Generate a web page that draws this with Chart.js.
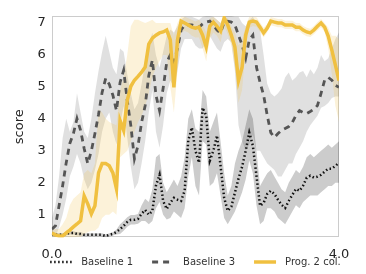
<!DOCTYPE html>
<html>
<head>
<meta charset="utf-8">
<script src="https://cdn.jsdelivr.net/npm/chart.js@4/dist/chart.umd.min.js"></script>
<style>
  html, body { margin: 0; padding: 0; background: #fff; }
  canvas { display: block; }
</style>
</head>
<body>
<canvas id="myChart" width="366" height="274"></canvas>
<script>
// x positions (0 .. 4, step 0.05)
var xs = [0,0.05,0.1,0.15,0.2,0.25,0.3,0.35,0.4,0.45,0.5,0.55,0.6,0.65,0.7,0.75,0.8,0.85,0.9,0.95,
          1,1.05,1.1,1.15,1.2,1.25,1.3,1.35,1.4,1.45,1.5,1.55,1.6,1.65,1.7,1.75,1.8,1.85,1.9,1.95,
          2,2.05,2.1,2.15,2.2,2.25,2.3,2.35,2.4,2.45,2.5,2.55,2.6,2.65,2.7,2.75,2.8,2.85,2.9,2.95,
          3,3.05,3.1,3.15,3.2,3.25,3.3,3.35,3.4,3.45,3.5,3.55,3.6,3.65,3.7,3.75,3.8,3.85,3.9,3.95,4];

var base1   = [0.4,0.37,0.37,0.37,0.4,0.43,0.43,0.4,0.4,0.37,0.37,0.37,0.37,0.37,0.37,0.33,0.37,0.4,0.46,0.55,
               0.65,0.77,0.84,0.84,0.87,1.03,1.15,1.0,1.12,1.91,2.25,1.43,1.18,1.37,1.53,1.47,1.43,1.75,3.32,3.73,
               3.0,2.63,4.35,4.1,2.69,3.0,3.48,2.53,1.53,1.12,1.25,1.69,2.13,2.5,3.0,3.57,3.16,2.22,1.28,1.37,
               1.65,1.75,1.65,1.47,1.31,1.21,1.43,1.62,1.81,1.75,1.91,2.16,2.22,2.16,2.19,2.25,2.35,2.44,2.44,2.53,2.63];
var base1Lo = [0.35,0.32,0.32,0.32,0.35,0.38,0.38,0.35,0.35,0.32,0.32,0.32,0.32,0.32,0.32,0.29,0.32,0.35,0.38,0.4,
               0.5,0.62,0.69,0.69,0.72,0.8,0.8,0.7,0.8,1.2,1.4,1.0,0.85,0.9,1.1,1.0,0.9,1.2,2.2,2.8,
               1.9,1.6,3.3,3.2,1.9,2.0,2.3,1.6,0.9,0.7,0.9,1.1,1.4,1.7,2.1,2.7,2.3,1.3,0.7,0.8,
               1.2,1.2,1.1,0.9,0.8,0.7,0.9,1.1,1.3,1.2,1.4,1.5,1.6,1.6,1.6,1.7,1.8,1.9,1.9,2.0,2.0];
var base1Hi = [0.45,0.42,0.42,0.42,0.45,0.48,0.48,0.45,0.45,0.42,0.42,0.42,0.42,0.42,0.42,0.38,0.42,0.45,0.54,0.7,
               0.8,0.92,0.99,0.99,1.02,1.3,1.5,1.4,1.8,2.8,2.9,2.0,1.7,1.9,2.1,1.9,2.2,2.8,4.0,4.3,
               3.7,3.6,4.9,4.7,3.6,3.9,4.2,3.3,2.3,1.6,1.9,2.6,3.0,3.3,3.8,4.3,4.0,3.0,1.9,2.1,
               2.3,2.4,2.2,2.0,1.8,1.7,2.0,2.2,2.4,2.3,2.5,2.8,2.9,2.8,2.9,3.0,3.1,3.2,3.1,3.2,3.3];

var base3   = [0.55,0.65,1.28,1.91,2.63,3.23,3.54,4.01,3.64,3.07,2.6,3.0,3.54,4.14,4.83,5.27,5.08,4.74,4.26,5.14,
               5.52,4.58,3.79,2.75,3.16,3.89,4.42,5.36,5.84,4.74,4.26,4.96,5.77,6.0,5.77,6.21,6.78,6.94,6.94,6.94,
               6.9,6.87,6.97,7.03,7.06,6.94,6.78,6.69,7.03,7.06,7.03,6.94,6.62,6.31,5.9,6.47,6.62,5.62,5.14,4.74,
               4.11,3.57,3.42,3.54,3.64,3.7,3.76,3.89,4.11,4.26,4.2,4.17,4.23,4.3,4.42,4.8,5.21,5.3,5.21,5.05,4.99];
var base3Lo = [0.29,0.3,0.6,1.0,1.5,2.2,2.5,2.9,2.6,2.1,1.8,2.0,2.4,2.9,3.6,4.0,4.2,3.6,3.2,3.8,
               4.4,3.4,2.5,1.8,2.0,2.6,3.3,4.2,4.9,3.6,3.1,3.8,4.8,5.2,5.0,5.5,6.2,6.5,6.5,6.5,
               6.3,6.2,6.2,6.4,6.6,6.4,6.2,6.1,6.4,6.5,6.4,5.5,3.8,3.3,3.0,3.2,3.5,3.0,3.0,2.8,
               2.6,2.5,2.4,2.2,2.2,2.4,2.6,2.6,2.9,3.1,3.3,3.6,3.8,3.95,4.1,4.35,4.4,4.5,4.65,4.7,4.7];
var base3Hi = [0.9,1.3,2.2,3.4,4.0,3.6,3.9,4.8,4.2,3.6,3.4,4.0,4.8,5.5,6.1,6.6,6.1,5.6,5.4,6.2,
               6.1,5.4,4.8,4.3,4.5,5.1,5.8,6.3,6.7,6.0,5.6,6.1,6.6,6.8,6.7,6.9,7.1,7.2,7.2,7.2,
               7.15,7.1,7.2,7.22,7.22,7.2,7.1,7.0,7.22,7.22,7.22,7.2,7.2,7.0,6.9,7.1,7.2,7.0,6.8,6.0,
               5.1,4.8,4.7,4.8,4.95,5.3,5.45,5.2,5.3,5.45,5.5,5.3,5.55,5.4,5.6,6.0,5.8,5.9,6.2,6.5,6.7];

var prog    = [0.43,0.37,0.33,0.33,0.43,0.52,0.62,0.71,0.81,1.59,1.34,1.03,1.28,2.31,2.6,2.6,2.53,2.31,1.81,3.95,
               3.64,4.58,5.02,5.21,5.33,5.46,5.62,6.34,6.53,6.62,6.69,6.72,6.78,6.47,4.99,6.47,7.06,7.0,6.94,6.87,
               6.84,6.87,6.62,6.25,6.9,7.03,6.9,6.75,7.16,6.94,6.62,6.25,5.2,5.62,6.62,7.03,7.06,7.03,6.87,6.69,
               6.84,7.06,7.03,7.0,7.0,6.94,6.94,6.94,6.87,6.87,6.78,6.72,6.69,6.78,6.9,7.0,6.87,6.59,6.15,5.68,5.2];
var progLo  = [0.29,0.29,0.29,0.29,0.29,0.29,0.29,0.3,0.3,0.4,0.45,0.5,0.5,0.6,0.9,1.0,1.0,1.1,1.0,2.8,
               2.9,3.0,3.3,3.6,3.9,4.1,4.4,4.8,5.3,5.6,5.8,6.0,6.0,5.0,4.2,5.5,6.7,6.75,6.7,6.6,
               6.55,6.55,6.2,5.8,6.5,6.7,6.6,6.4,6.9,6.65,6.3,5.6,4.5,4.9,6.2,6.85,6.9,6.88,6.72,6.55,
               6.71,6.93,6.9,6.87,6.87,6.81,6.81,6.81,6.74,6.74,6.65,6.59,6.56,6.65,6.77,6.87,6.72,6.2,5.4,4.4,3.9];
var progHi  = [0.6,0.55,0.55,0.7,0.9,1.3,1.5,1.6,1.7,2.3,2.4,2.3,2.6,4.3,4.2,4.0,3.9,3.85,3.8,4.9,
               5.3,6.0,6.9,7.1,7.1,7.05,7.0,7.05,7.1,7.0,7.0,7.0,7.0,7.0,6.6,7.0,7.2,7.2,7.15,7.1,
               7.05,7.1,6.95,6.7,7.15,7.2,7.1,7.0,7.22,7.15,6.9,6.7,6.3,6.5,6.9,7.2,7.2,7.18,7.02,6.85,
               6.97,7.19,7.16,7.13,7.13,7.07,7.07,7.07,7.0,7.0,6.91,6.85,6.82,6.91,7.03,7.13,7.0,6.85,6.6,6.6,6.5];

var xTicks = [0, 4];
var yTicks = [1, 2, 3, 4, 5, 6, 7];

function pts(ys){
    return ys.map(function(y, i){ return {x: xs[i], y: y}; });
}

function band(lo, hi, color, order){
    return [
        { data: pts(lo), borderWidth: 0, pointRadius: 0, fill: false, order: order, tension: 0 },
        { data: pts(hi), borderWidth: 0, pointRadius: 0, fill: '-1', backgroundColor: color, order: order, tension: 0 }
    ];
}

var frame = {
    id: 'frame',
    beforeDatasetsDraw: function(chart){
        var a = chart.chartArea, ctx = chart.ctx;
        ctx.save();
        ctx.strokeStyle = '#cccccc';
        ctx.lineWidth = 1;
        ctx.strokeRect(Math.round(a.left) + 0.5, Math.round(a.top) + 0.5,
                       Math.round(a.right - a.left) - 1, Math.round(a.bottom - a.top) - 1);
        ctx.restore();
    }
};

// legend under the x axis, drawn from the line datasets' own styles
var lineLegend = {
    id: 'lineLegend',
    afterDraw: function(chart){
        var ctx = chart.ctx, a = chart.chartArea;
        var sample = 22, gapText = 9, gapItem = 19, y = 262;
        ctx.save();
        ctx.font = "10px 'DejaVu Sans', sans-serif";
        var items = chart.data.datasets.filter(function(d){ return d.label; });
        var total = 0;
        items.forEach(function(d, i){
            total += sample + gapText + ctx.measureText(d.label).width + (i ? gapItem : 0);
        });
        var x = (a.left + a.right) / 2 - total / 2;
        items.forEach(function(d){
            ctx.beginPath();
            ctx.setLineDash(d.borderDash || []);
            ctx.lineWidth = d.borderWidth;
            ctx.strokeStyle = d.borderColor;
            ctx.moveTo(x, y);
            ctx.lineTo(x + sample, y);
            ctx.stroke();
            ctx.setLineDash([]);
            ctx.fillStyle = '#333333';
            ctx.textBaseline = 'middle';
            ctx.fillText(d.label, x + sample + gapText, y);
            x += sample + gapText + ctx.measureText(d.label).width + gapItem;
        });
        ctx.restore();
    }
};

var datasets = [
    { label: 'Baseline 1', data: pts(base1), borderColor: '#111111', borderWidth: 2.5,
      borderDash: [1.5, 2.5], pointRadius: 0, fill: false, order: 2, tension: 0 },
    { label: 'Baseline 3', data: pts(base3), borderColor: '#555555', borderWidth: 2.8,
      borderDash: [6, 5], pointRadius: 0, fill: false, order: 1, tension: 0 },
    { label: 'Prog. 2 col.', data: pts(prog), borderColor: '#f0c040', borderWidth: 3.5,
      pointRadius: 0, fill: false, order: 0, tension: 0 }
].concat(band(base3Lo, base3Hi, 'rgba(0,0,0,0.12)', 5))
 .concat(band(base1Lo, base1Hi, 'rgba(0,0,0,0.2)', 4))
 .concat(band(progLo, progHi, 'rgba(240,192,64,0.2)', 3));

Chart.defaults.font.family = "'DejaVu Sans', sans-serif";

var myChart = new Chart(document.getElementById('myChart'), {
    type: 'line',
    data: { datasets: datasets },
    plugins: [frame, lineLegend],
    options: {
        responsive: false,
        animation: false,
        devicePixelRatio: 1,
        layout: { padding: { left: 8, right: 27, top: 16, bottom: 3 } },
        plugins: {
            tooltip: { enabled: false },
            legend: { display: false }
        },
        scales: {
            x: {
                type: 'linear', min: 0, max: 4,
                grid: { display: false, drawTicks: false },
                border: { display: false },
                afterBuildTicks: function(s){ s.ticks = xTicks.map(function(v){ return {value: v}; }); },
                ticks: {
                    color: '#262626', font: { size: 13 }, padding: 9, maxRotation: 0,
                    callback: function(v){ return Number(v).toFixed(1); }
                }
            },
            y: {
                min: 0.29, max: 7.22,
                grid: { display: false, drawTicks: false },
                border: { display: false },
                afterBuildTicks: function(s){ s.ticks = yTicks.map(function(v){ return {value: v}; }); },
                ticks: { color: '#262626', font: { size: 13 }, padding: 6 },
                title: { display: true, text: 'score', color: '#262626', font: { size: 13 },
                         padding: { top: 4, bottom: 4 } }
            }
        }
    }
});
</script>
</body>
</html>
